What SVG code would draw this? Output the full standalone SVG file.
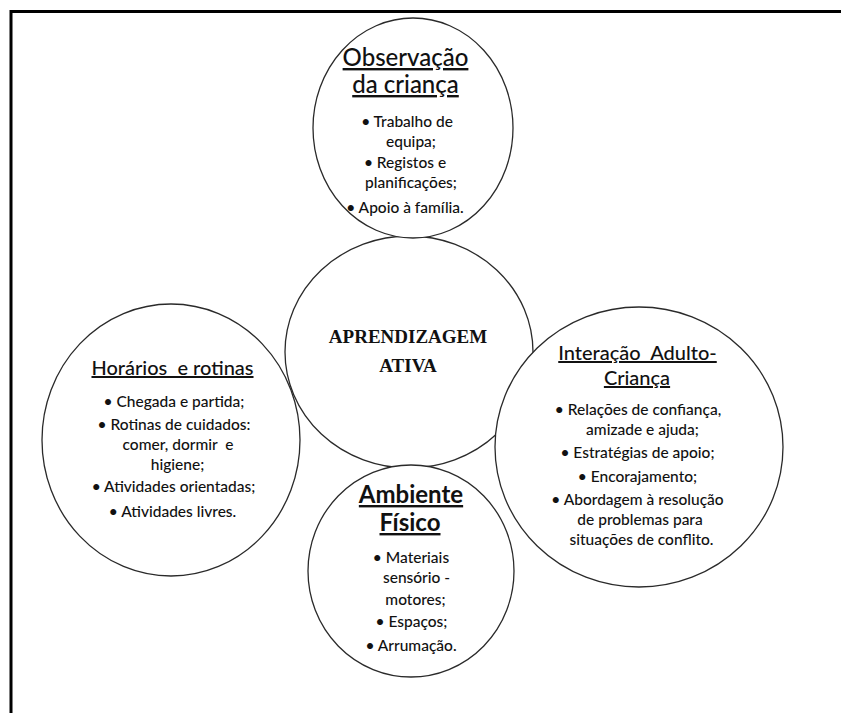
<svg xmlns="http://www.w3.org/2000/svg" width="841" height="713" viewBox="0 0 841 713">
<style>
.frame{stroke:#000;stroke-width:3;fill:none}
.node{fill:#fff;stroke:#2a2a2a;stroke-width:1.3}
.conn line{stroke:#2a2a2a;stroke-width:1.4}
text{font-family:Lato,"Open Sans","Liberation Sans",sans-serif;fill:#111;text-anchor:middle}
.t{font-size:20px;font-weight:500;text-decoration:underline}
.tb{font-size:24px;font-weight:bold;text-decoration:underline}
.b{font-size:15.5px;font-weight:500}
.c{font-family:"Liberation Serif","Times New Roman",serif;font-weight:bold;font-size:19px}
</style>
<rect width="841" height="713" fill="#fff"/>
<path class="frame" d="M11 713 V11.5 H841"/>
<g id="connectors" class="conn">
<line x1="407" y1="242" x2="407" y2="302"/>
<line x1="410" y1="402" x2="410" y2="467"/>
<line x1="340" y1="378" x2="299" y2="394"/>
<line x1="487" y1="382" x2="508" y2="391"/>
</g>
<g id="center">
<ellipse class="node" cx="409" cy="352" rx="124" ry="116"/>
<text class="c" x="408" y="343">APRENDIZAGEM</text>
<text class="c" x="408" y="372">ATIVA</text>
</g>
<g id="observacao">
<ellipse class="node" cx="413" cy="128" rx="100" ry="110"/>
<text class="t" x="405.5" y="66" style="font-size:24px">Observação</text>
<text class="t" x="405.5" y="93" style="font-size:24px">da criança</text>
<text class="b" x="407" y="127">• Trabalho de</text>
<text class="b" x="411" y="147">equipa;</text>
<text class="b" x="405" y="168">• Registos e</text>
<text class="b" x="411" y="188">planificações;</text>
<text class="b" x="405" y="213">• Apoio à família.</text>
</g>
<g id="horarios">
<ellipse class="node" cx="171" cy="440" rx="129" ry="136"/>
<text class="t" x="172.5" y="375" xml:space="preserve">Horários  e rotinas</text>
<text class="b" x="174" y="407">• Chegada e partida;</text>
<text class="b" x="174" y="430">• Rotinas de cuidados:</text>
<text class="b" x="178" y="450" xml:space="preserve">comer, dormir  e</text>
<text class="b" x="177.5" y="470">higiene;</text>
<text class="b" x="173.5" y="492">• Atividades orientadas;</text>
<text class="b" x="172.5" y="517">• Atividades livres.</text>
</g>
<g id="interacao">
<ellipse class="node" cx="639" cy="447" rx="144" ry="140"/>
<text class="t" x="637.5" y="360" xml:space="preserve">Interação  Adulto-</text>
<text class="t" x="637" y="385">Criança</text>
<text class="b" x="638" y="415">• Relações de confiança,</text>
<text class="b" x="642.5" y="435">amizade e ajuda;</text>
<text class="b" x="637.5" y="458">• Estratégias de apoio;</text>
<text class="b" x="637.5" y="482">• Encorajamento;</text>
<text class="b" x="637.5" y="505">• Abordagem à resolução</text>
<text class="b" x="640" y="525">de problemas para</text>
<text class="b" x="641.5" y="545">situações de conflito.</text>
</g>
<g id="ambiente">
<ellipse class="node" cx="411" cy="571" rx="103" ry="106"/>
<text class="tb" x="411" y="503">Ambiente</text>
<text class="tb" x="410" y="531">Físico</text>
<text class="b" x="411" y="563">• Materiais</text>
<text class="b" x="416.5" y="583">sensório -</text>
<text class="b" x="415.5" y="605">motores;</text>
<text class="b" x="411.5" y="627">• Espaços;</text>
<text class="b" x="411" y="651">• Arrumação.</text>
</g>
</svg>
